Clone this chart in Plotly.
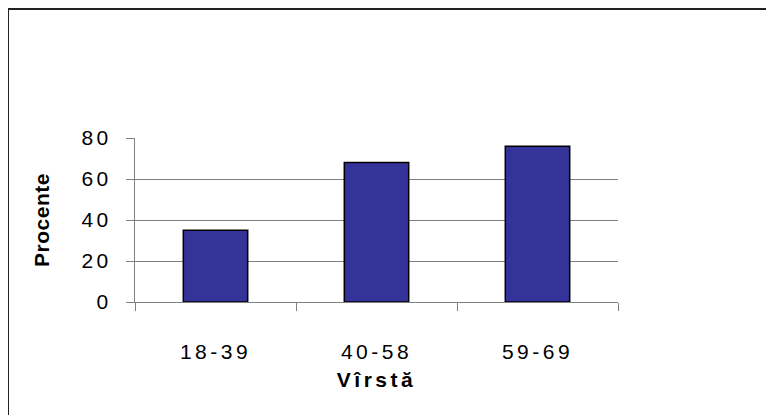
import plotly.graph_objects as go

categories = ["18-39", "40-58", "59-69"]
values = [35, 68, 76]
y_ticks = [0, 20, 40, 60, 80]

fig = go.Figure()
fig.add_trace(go.Bar(
    x=categories, y=values,
    marker=dict(color="#333399", line=dict(color="black", width=1.5)),
    width=0.4,
))

font = "Arial, Liberation Sans, sans-serif"
# figure coordinates (page body adds an 8px offset)
L, R, T, B = 127, 610, 130, 294
W, H = 774, 415
pw, ph = R - L, B - T

def px(x):
    return (x - L) / pw

def py(y):
    return (B - y) / ph

fig.update_layout(
    width=W, height=H,
    margin=dict(l=L, r=W - R, t=T, b=H - B),
    paper_bgcolor="white", plot_bgcolor="white",
    showlegend=False,
    font=dict(family=font, size=21, color="black"),
    bargap=0.6,
    xaxis=dict(
        showline=True, linecolor="#808080", linewidth=1,
        ticks="outside", tickson="boundaries", ticklen=8, tickcolor="#808080",
        ticklabelstandoff=31,
        title=dict(text="<b>Vîrstă</b>", font=dict(size=21), standoff=10),
        showgrid=False,
    ),
    yaxis=dict(
        range=[0, 80], tickvals=y_ticks,
        showline=True, linecolor="#808080", linewidth=1,
        ticks="outside", ticklen=8, tickcolor="#808080",
        ticklabelstandoff=10,
        showgrid=True, gridcolor="#808080", gridwidth=1,
        zeroline=False,
        title=dict(text="<b>Procente</b>", font=dict(size=21), standoff=33),
    ),
    shapes=[
        dict(type="line", xref="paper", yref="paper", x0=px(0), x1=px(W + 20), y0=py(1), y1=py(1),
             line=dict(color="#222", width=2)),
        dict(type="line", xref="paper", yref="paper", x0=px(0), x1=px(0), y0=py(1), y1=py(H + 20),
             line=dict(color="#222", width=2)),
    ],
)

post = ("var gd=document.getElementById('{plot_id}');"
        "gd.querySelectorAll('text').forEach(function(t){"
        "t.style.letterSpacing = t.classList.contains('ytitle') ? '0.5px' : '3.5px';});")
fig.write_html("out.html", post_script=post)
